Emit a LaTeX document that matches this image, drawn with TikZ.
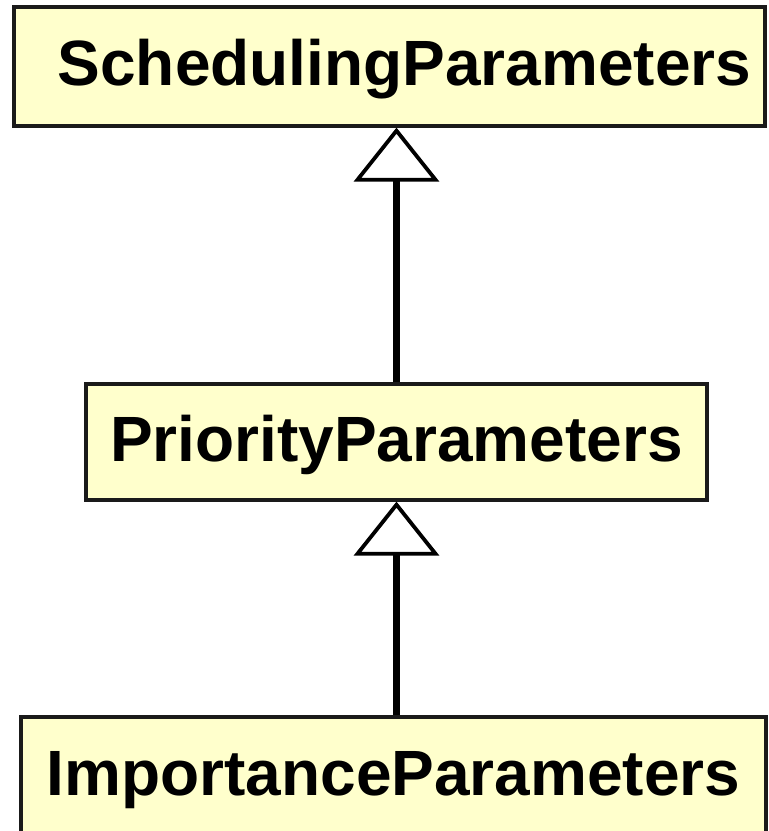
\documentclass[tikz,border=0pt]{standalone}
\usepackage{fontspec}
\setmainfont{Liberation Sans}
\usetikzlibrary{arrows.meta}
\definecolor{classfill}{HTML}{FFFFCC}
\definecolor{classline}{HTML}{1A1A1A}
\tikzset{
  classbox/.style={draw=classline, line width=3.2pt, fill=classfill, inner sep=0pt,
    font=\fontsize{64}{76}\selectfont\bfseries, text height=47pt, text depth=9pt},
  inherits/.style={line width=6.5pt, -{Triangle[open, length=54pt, width=85pt, line width=3.8pt]}}
}
\begin{document}
\begin{tikzpicture}[line join=miter, x=1pt, y=1pt]
  \useasboundingbox (0,0) rectangle (769,-831);
  \node[classbox, minimum width=751pt, minimum height=119pt] (sched) at (389.5,-66.5) {\hspace*{30pt}SchedulingParameters};
  \node[classbox, minimum width=621pt, minimum height=116pt] (prio) at (396.5,-442) {PriorityParameters};
  \node[classbox, minimum width=745pt, minimum height=118pt] (imp) at (393.5,-776) {ImportanceParameters};
  \draw[inherits] (prio.north) -- (prio.north |- sched.south);
  \draw[inherits] (imp.north -| prio.north) -- (prio.south);
\end{tikzpicture}
\end{document}
